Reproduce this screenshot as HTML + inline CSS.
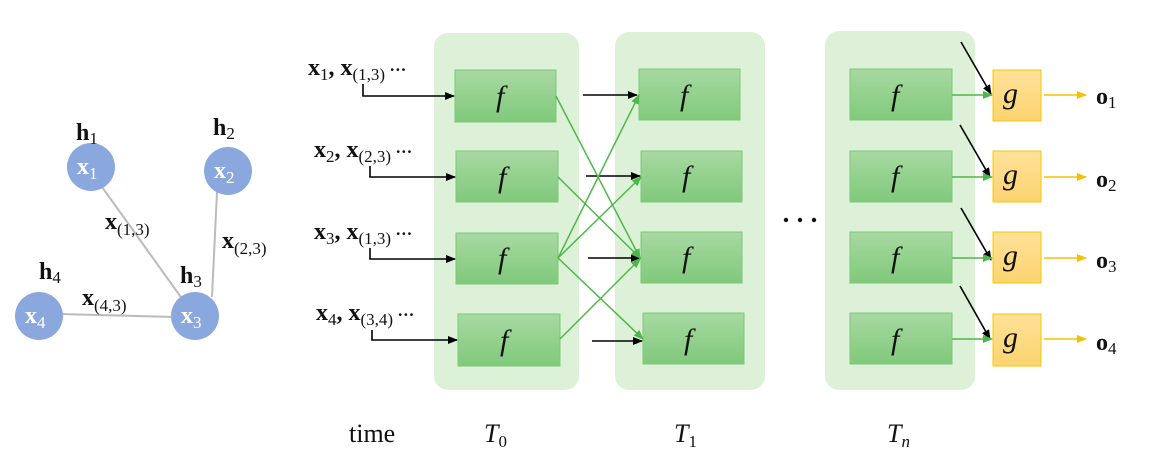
<!DOCTYPE html>
<html><head><meta charset="utf-8"><style>
html,body{margin:0;padding:0;background:#fff;}
svg{display:block;}
text{font-family:"Liberation Serif",serif;}
.b{font-weight:bold;font-size:24px;fill:#111;}
.s{font-size:17px;font-weight:normal;}
.w{fill:#fff;font-weight:bold;font-size:24px;}
.f{font-style:italic;font-size:30px;fill:#111;}
</style></head><body>
<svg width="1172" height="466" viewBox="0 0 1172 466" xmlns="http://www.w3.org/2000/svg">
<defs>
<linearGradient id="gf" x1="0" y1="0" x2="0" y2="1"><stop offset="0" stop-color="#a8d9a2"/><stop offset="1" stop-color="#80c97b"/></linearGradient>
<linearGradient id="gg" x1="0" y1="0" x2="0" y2="1"><stop offset="0" stop-color="#ffe199"/><stop offset="1" stop-color="#fcd370"/></linearGradient>
<marker id="ak" markerWidth="10" markerHeight="8" refX="9" refY="4" orient="auto" markerUnits="userSpaceOnUse"><path d="M0,0 L10,4 L0,8 z" fill="#000"/></marker>
<marker id="ag" markerWidth="10" markerHeight="8" refX="9" refY="4" orient="auto" markerUnits="userSpaceOnUse"><path d="M0,0 L10,4 L0,8 z" fill="#4db848"/></marker>
<marker id="ay" markerWidth="10" markerHeight="8" refX="9" refY="4" orient="auto" markerUnits="userSpaceOnUse"><path d="M0,0 L10,4 L0,8 z" fill="#f5c000"/></marker>
</defs>
<g stroke="#bbb" stroke-width="2">
<line x1="102" y1="187" x2="183" y2="300"/>
<line x1="217" y1="192" x2="212" y2="297"/>
<line x1="60" y1="314" x2="175" y2="317"/>
</g>
<g fill="#8aa7de">
<circle cx="91" cy="167" r="24"/><circle cx="228" cy="171" r="24"/>
<circle cx="195" cy="316" r="24"/><circle cx="39" cy="316" r="24"/>
</g>
<text class="w" x="77" y="174">x<tspan class="s" dy="5">1</tspan></text>
<text class="w" x="214" y="178">x<tspan class="s" dy="5">2</tspan></text>
<text class="w" x="181" y="323">x<tspan class="s" dy="5">3</tspan></text>
<text class="w" x="25" y="323">x<tspan class="s" dy="5">4</tspan></text>
<text class="b" x="76" y="140">h<tspan class="s" dy="4">1</tspan></text>
<text class="b" x="213" y="135">h<tspan class="s" dy="4">2</tspan></text>
<text class="b" x="180" y="283">h<tspan class="s" dy="4">3</tspan></text>
<text class="b" x="39" y="279">h<tspan class="s" dy="4">4</tspan></text>
<text class="b" x="105" y="229">x<tspan class="s" dy="6">(1,3)</tspan></text>
<text class="b" x="222" y="248">x<tspan class="s" dy="6">(2,3)</tspan></text>
<text class="b" x="82" y="305">x<tspan class="s" dy="6">(4,3)</tspan></text>
<g fill="#dcf1d8">
<rect x="434" y="33" width="145" height="357" rx="14"/>
<rect x="615" y="32" width="150" height="358" rx="14"/>
<rect x="825" y="31" width="150" height="359" rx="14"/>
</g>
<g fill="url(#gf)" stroke="#7cc977" stroke-width="1">
<rect x="455" y="70" width="101" height="52"/><rect x="456" y="151" width="102" height="51"/>
<rect x="456" y="233" width="102" height="51"/><rect x="458" y="314" width="102" height="52"/>
<rect x="639" y="69" width="101" height="51"/><rect x="641" y="151" width="101" height="51"/>
<rect x="641" y="232" width="101" height="51"/><rect x="643" y="313" width="101" height="51"/>
<rect x="850" y="69" width="102" height="51"/><rect x="850" y="151" width="102" height="51"/>
<rect x="850" y="232" width="102" height="51"/><rect x="850" y="313" width="102" height="51"/>
</g>
<g fill="url(#gg)" stroke="#f5c800" stroke-width="1">
<rect x="993" y="70" width="48" height="51"/><rect x="993" y="151" width="48" height="51"/>
<rect x="993" y="232" width="48" height="51"/><rect x="993" y="314" width="48" height="52"/>
</g>
<text class="f" x="496" y="106">f</text><text class="f" x="498" y="187">f</text>
<text class="f" x="498" y="268">f</text><text class="f" x="500" y="350">f</text>
<text class="f" x="680" y="105">f</text><text class="f" x="682" y="186">f</text>
<text class="f" x="682" y="267">f</text><text class="f" x="684" y="349">f</text>
<text class="f" x="891" y="105">f</text><text class="f" x="891" y="186">f</text>
<text class="f" x="891" y="267">f</text><text class="f" x="891" y="349">f</text>
<text class="f" x="1003" y="103">g</text><text class="f" x="1003" y="184">g</text>
<text class="f" x="1003" y="265">g</text><text class="f" x="1003" y="347">g</text>
<text class="b" x="308" y="75">x<tspan class="s" dy="5">1</tspan><tspan dy="-5">, x</tspan><tspan class="s" dy="5">(1,3)</tspan><tspan dy="-5" font-size="17"> ···</tspan></text>
<text class="b" x="314" y="157">x<tspan class="s" dy="5">2</tspan><tspan dy="-5">, x</tspan><tspan class="s" dy="5">(2,3)</tspan><tspan dy="-5" font-size="17"> ···</tspan></text>
<text class="b" x="314" y="239">x<tspan class="s" dy="5">3</tspan><tspan dy="-5">, x</tspan><tspan class="s" dy="5">(1,3)</tspan><tspan dy="-5" font-size="17"> ···</tspan></text>
<text class="b" x="316" y="320">x<tspan class="s" dy="5">4</tspan><tspan dy="-5">, x</tspan><tspan class="s" dy="5">(3,4)</tspan><tspan dy="-5" font-size="17"> ···</tspan></text>
<g stroke="#000" stroke-width="1.6" fill="none" marker-end="url(#ak)">
<path d="M363,84 V96 H454"/><path d="M370,166 V177 H455"/>
<path d="M370,248 V259 H455"/><path d="M372,330 V340 H457"/>
<line x1="583" y1="95" x2="637" y2="95"/><line x1="586" y1="176" x2="640" y2="176"/>
<line x1="588" y1="258" x2="640" y2="258"/><line x1="592" y1="341" x2="642" y2="341"/>
<line x1="961" y1="42" x2="991" y2="94"/><line x1="960" y1="125" x2="990" y2="177"/>
<line x1="961" y1="208" x2="991" y2="260"/><line x1="960" y1="286" x2="990" y2="339"/>
</g>
<g stroke="#4db848" stroke-width="1.5" fill="none" marker-end="url(#ag)">
<line x1="556" y1="96" x2="640" y2="258"/><line x1="558" y1="177" x2="640" y2="258"/>
<line x1="558" y1="258" x2="639" y2="95"/><line x1="558" y1="258" x2="641" y2="177"/>
<line x1="558" y1="258" x2="643" y2="339"/><line x1="560" y1="339" x2="640" y2="259"/>
<line x1="952" y1="95" x2="992" y2="95"/><line x1="952" y1="177" x2="992" y2="177"/>
<line x1="952" y1="258" x2="992" y2="258"/><line x1="952" y1="339" x2="992" y2="339"/>
</g>
<g stroke="#f5c000" stroke-width="1.5" marker-end="url(#ay)">
<line x1="1044" y1="95" x2="1086" y2="95"/><line x1="1044" y1="177" x2="1086" y2="177"/>
<line x1="1044" y1="258" x2="1086" y2="258"/><line x1="1044" y1="339" x2="1086" y2="339"/>
</g>
<text class="b" x="1096" y="104">o<tspan class="s" dy="4">1</tspan></text>
<text class="b" x="1096" y="187">o<tspan class="s" dy="4">2</tspan></text>
<text class="b" x="1096" y="268">o<tspan class="s" dy="4">3</tspan></text>
<text class="b" x="1096" y="350">o<tspan class="s" dy="4">4</tspan></text>
<g fill="#111"><circle cx="786" cy="220" r="2.2"/><circle cx="800" cy="220" r="2.2"/><circle cx="814" cy="220" r="2.2"/></g>
<text x="349" y="442" font-size="26" fill="#111">time</text>
<text x="484" y="442" font-size="26" font-style="italic" fill="#111">T<tspan font-size="17" font-style="normal" dy="5">0</tspan></text>
<text x="674" y="442" font-size="26" font-style="italic" fill="#111">T<tspan font-size="17" font-style="normal" dy="5">1</tspan></text>
<text x="887" y="442" font-size="26" font-style="italic" fill="#111">T<tspan font-size="17" dy="5">n</tspan></text>
</svg>
</body></html>
